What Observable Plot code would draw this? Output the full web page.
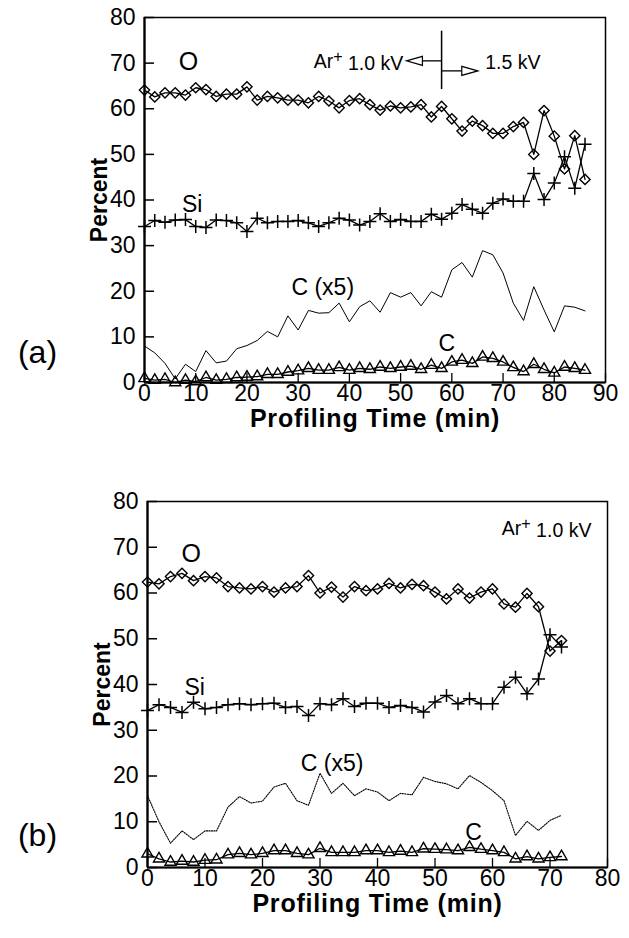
<!DOCTYPE html>
<html><head><meta charset="utf-8">
<script src="https://cdn.jsdelivr.net/npm/d3@7"></script>
<script src="https://cdn.jsdelivr.net/npm/@observablehq/plot@0.6"></script>
<style>
body{margin:0;background:#fff;}
#wrap{width:629px;}
#wrap svg{display:block;}
</style></head><body><div id="wrap"></div>
<script>
// ---------- tick labels ----------
const yTicks = [0, 10, 20, 30, 40, 50, 60, 70, 80];
const xTicksA = [0, 10, 20, 30, 40, 50, 60, 70, 80, 90];
const xTicksB = [0, 10, 20, 30, 40, 50, 60, 70, 80];

// ---------- panel (a) : profiling time (min) ----------
const timeA = [0,2,4,6,8,10,12,14,16,18,20,22,24,26,28,30,32,34,36,38,40,42,44,46,48,50,52,54,56,58,60,62,64,66,68,70,72,74,76,78,80,82,84,86];
const oA  = [64.1,62.6,63.5,63.5,63.0,64.6,64.2,62.7,63.2,63.2,64.8,61.9,62.7,62.4,61.9,61.9,61.3,62.7,61.7,60.2,61.8,62.2,60.9,59.7,60.6,60.2,60.4,60.9,58.2,60.5,57.8,55.1,57.3,56.3,54.6,54.6,56.1,57.0,50.0,59.6,54.0,46.8,54.1,44.5];
const siA = [34.2,35.5,35.1,35.6,35.7,34.2,34.0,35.6,35.5,35.0,33.1,36.0,35.0,35.3,35.3,35.5,35.0,34.2,35.0,36.0,35.6,34.5,35.3,37.0,35.3,35.7,35.3,35.3,36.9,35.8,37.1,39.0,38.0,37.1,39.3,40.2,39.7,39.7,45.8,40.1,43.7,49.5,42.6,52.2];
const cA  = [0.9,0.5,0.7,0.0,0.5,0.2,1.1,0.5,0.7,1.1,1.2,1.3,1.8,1.8,2.3,2.6,3.1,2.7,2.7,3.3,2.7,3.1,2.9,3.4,3.1,3.4,3.6,2.9,3.8,3.1,4.5,4.9,4.2,5.6,5.3,4.5,3.3,2.4,4.0,2.9,2.1,3.4,3.1,2.7];
const c5A = [8.0,6.5,4.2,0.8,4.0,2.4,7.0,4.3,4.7,7.4,8.1,9.2,11.2,10.0,14.6,11.5,15.8,15.2,15.3,17.4,13.3,16.6,17.9,15.4,19.7,18.7,19.7,16.8,19.9,18.7,24.7,26.3,23.1,28.9,28.0,24.0,17.4,13.6,21.0,15.9,11.1,16.8,16.5,15.7];

// ---------- panel (b) ----------
const timeB = [0,2,4,6,8,10,12,14,16,18,20,22,24,26,28,30,32,34,36,38,40,42,44,46,48,50,52,54,56,58,60,62,64,66,68,70,72];
const oB  = [62.4,62.0,63.6,64.3,62.7,63.6,63.3,61.4,61.1,60.9,61.4,60.2,61.1,61.4,63.8,60.0,61.3,59.1,61.4,60.5,60.9,62.1,61.1,61.9,61.6,60.2,58.7,60.9,58.9,60.2,60.9,57.6,56.9,59.9,57.0,47.3,49.6];
const siB = [34.3,35.6,35.0,33.9,36.1,34.7,35.0,35.6,35.8,35.6,35.8,35.9,35.0,35.2,33.2,35.8,35.6,36.9,35.2,35.9,35.9,35.0,35.4,35.0,34.0,36.2,37.6,35.8,36.9,35.8,35.8,39.4,41.6,38.0,41.2,50.9,48.2];
const cB  = [3.0,1.9,1.2,1.4,1.2,1.6,1.7,2.8,3.1,2.8,3.1,3.7,3.7,3.1,2.8,4.2,3.3,3.3,3.3,3.7,3.7,3.3,3.6,3.3,4.1,4.0,3.9,3.7,4.4,4.0,3.7,3.3,1.9,2.4,1.9,2.2,2.4];
const c5B = [15.7,10.0,5.3,8.0,6.1,8.0,8.0,13.2,15.5,14.1,14.5,17.6,18.4,14.6,13.6,20.6,16.2,18.4,15.7,17.2,16.5,14.6,16.2,15.9,19.7,18.8,18.3,17.2,20.1,18.6,16.8,14.6,7.0,10.1,8.1,10.3,11.4];

// ---------- annotations (data coordinates) ----------
const seriesLabelsA = [{text:"O", t:8.6, v:70.2}, {text:"Si", t:9.3, v:39.0}, {text:"C (x5)", t:34.8, v:20.7}, {text:"C", t:59.0, v:8.6}];
const seriesLabelsB = [{text:"O", t:7.6, v:68.6}, {text:"Si", t:8.2, v:39.4}, {text:"C (x5)", t:32.1, v:22.7}, {text:"C", t:56.7, v:7.7}];
const beamTextA = [{text:"Ar+ 1.0 kV", t:50.5, v:70.2, anchor:"end"}, {text:"1.5 kV", t:66.5, v:70.1, anchor:"start"}];
const beamTextB = [{text:"Ar+ 1.0 kV", t:77.2, v:74.0, anchor:"end"}];
const switchBarA = [{t:58, v1:64.2, v2:77.0}];
const arrowStemsA = [{t1:58, t2:54.3, v:70.5}, {t1:58, t2:61.9, v:68.3}];
const arrowHeadLeftA = [{t:52.7, v:70.5}];
const arrowHeadRightA = [{t:63.5, v:68.3}];

const FONT = "'Liberation Sans', Arial, Helvetica, sans-serif";
const triLeft = {draw(ctx){ctx.moveTo(-8,0);ctx.lineTo(8,-4.5);ctx.lineTo(8,4.5);ctx.closePath();}};
const triRight = {draw(ctx){ctx.moveTo(8,0);ctx.lineTo(-8,-4.5);ctx.lineTo(-8,4.5);ctx.closePath();}};
const plusMark = {draw(ctx){const a = 6.5; ctx.moveTo(-a,0);ctx.lineTo(a,0);ctx.moveTo(0,-a);ctx.lineTo(0,a);}};

function panel(cfg) {
  const rows = cfg.time.map((t, i) => ({t, o: cfg.o[i], si: cfg.si[i], c: cfg.c[i], c5: cfg.c5[i]}));
  const fw = cfg.width - cfg.ml - cfg.mr;
  const fh = cfg.height - cfg.mt - cfg.mb;
  const marks = [
    Plot.frame({stroke: "black", strokeWidth: 1.5}),
    Plot.ruleX([0], {stroke: "black", strokeWidth: 2.2}),
    Plot.ruleY([0], {stroke: "black", strokeWidth: 2.2}),
    Plot.tickY(yTicks, {y: d => d, insetRight: fw - 10, stroke: "black", strokeWidth: 1.5}),
    Plot.tickX(cfg.xTicks, {x: d => d, insetTop: fh - 9, stroke: "black", strokeWidth: 1.3}),
    Plot.line(rows, {x: "t", y: "c5", stroke: "black", strokeWidth: cfg.dotted ? 1.1 : 1, strokeDasharray: cfg.dotted ? "1.2,1.3" : null}),
    Plot.line(rows, {x: "t", y: "o", stroke: "black", strokeWidth: 1.3}),
    Plot.line(rows, {x: "t", y: "si", stroke: "black", strokeWidth: 1.3}),
    Plot.line(rows, {x: "t", y: "c", stroke: "black", strokeWidth: 1.3}),
    Plot.dot(rows, {x: "t", y: "o", symbol: "diamond2", r: 4.6, stroke: "black", strokeWidth: 1.4, fill: "none"}),
    Plot.dot(rows, {x: "t", y: "si", symbol: plusMark, stroke: "black", strokeWidth: 1.5}),
    Plot.dot(rows, {x: "t", y: "c", symbol: "triangle2", r: 5.3, stroke: "black", strokeWidth: 1.4, fill: "none"}),
    Plot.text(cfg.labels.filter(d => d.text === "O"), {x: "t", y: "v", text: "text", fontSize: 25, fill: "black"}),
    Plot.text(cfg.labels.filter(d => d.text !== "O"), {x: "t", y: "v", text: "text", fontSize: 23, fill: "black"}),
    Plot.text(cfg.beam.filter(d => d.anchor === "end"), {x: "t", y: "v", text: "text", textAnchor: "end", fontSize: 19.5, fill: "black"}),
    Plot.text(cfg.beam.filter(d => d.anchor === "start"), {x: "t", y: "v", text: "text", textAnchor: "start", fontSize: 19.5, fill: "black"}),
    Plot.text(["Percent"], {frameAnchor: "left", dx: -45, rotate: -90, lineAnchor: "middle", textAnchor: "middle", fontWeight: "bold", fontSize: 23, fill: "black"}),
    Plot.text(["Profiling Time (min)"], {frameAnchor: "bottom", dy: 36, lineAnchor: "middle", textAnchor: "middle", fontWeight: "bold", fontSize: 25, fill: "black"}),
    Plot.text([cfg.tag], {frameAnchor: "bottom-left", dx: cfg.tagDx, dy: cfg.tagDy, lineAnchor: "middle", textAnchor: "middle", fontSize: 32, fill: "black"})
  ];
  if (cfg.bars) {
    marks.push(Plot.ruleX(cfg.bars, {x: "t", y1: "v1", y2: "v2", stroke: "black", strokeWidth: 1.5}));
    marks.push(Plot.link(cfg.stems, {x1: "t1", x2: "t2", y1: "v", y2: "v", stroke: "black", strokeWidth: 1.3}));
    marks.push(Plot.dot(cfg.headL, {x: "t", y: "v", symbol: triLeft, stroke: "black", strokeWidth: 1.2, fill: "white"}));
    marks.push(Plot.dot(cfg.headR, {x: "t", y: "v", symbol: triRight, stroke: "black", strokeWidth: 1.2, fill: "white"}));
  }
  const svg = Plot.plot({
    width: cfg.width, height: cfg.height,
    marginLeft: cfg.ml, marginRight: cfg.mr, marginTop: cfg.mt, marginBottom: cfg.mb,
    style: {fontSize: "23px", fontFamily: FONT, background: "white", color: "black", overflow: "visible"},
    x: {domain: [0, cfg.xMax], ticks: cfg.xTicks, tickSize: 0, tickPadding: 2, tickFormat: d => String(d), label: null},
    y: {domain: [0, 80], ticks: yTicks, tickSize: 0, tickPadding: 9, tickFormat: d => String(d), label: null},
    marks
  });
  // letter spacing for x label; superscript "+" in Ar+
  d3.select(svg).selectAll("text").each(function() {
    if (this.textContent === "Profiling Time (min)") this.setAttribute("letter-spacing", "0.8");
    if (this.textContent === "Ar+ 1.0 kV") {
      const el = d3.select(this);
      el.text("");
      el.append("tspan").text("Ar");
      el.append("tspan").attr("dy", "-0.4em").attr("font-size", "16px").text("+");
      el.append("tspan").attr("dy", "0.4em").text(" 1.0 kV");
    }
  });
  return svg;
}

const wrap = document.getElementById("wrap");
wrap.appendChild(panel({
  time: timeA, o: oA, si: siA, c: cA, c5: c5A, xTicks: xTicksA, xMax: 90, dotted: false,
  labels: seriesLabelsA, beam: beamTextA, bars: switchBarA, stems: arrowStemsA, headL: arrowHeadLeftA, headR: arrowHeadRightA,
  tag: "(a)", tagDx: -107, tagDy: -30,
  width: 629, height: 440, ml: 144, mr: 24, mt: 17, mb: 58
}));
wrap.appendChild(panel({
  time: timeB, o: oB, si: siB, c: cB, c5: c5B, xTicks: xTicksB, xMax: 80, dotted: true,
  labels: seriesLabelsB, beam: beamTextB,
  tag: "(b)", tagDx: -110, tagDy: -32,
  width: 629, height: 498, ml: 147, mr: 22, mt: 61, mb: 71
}));
</script></body></html>
